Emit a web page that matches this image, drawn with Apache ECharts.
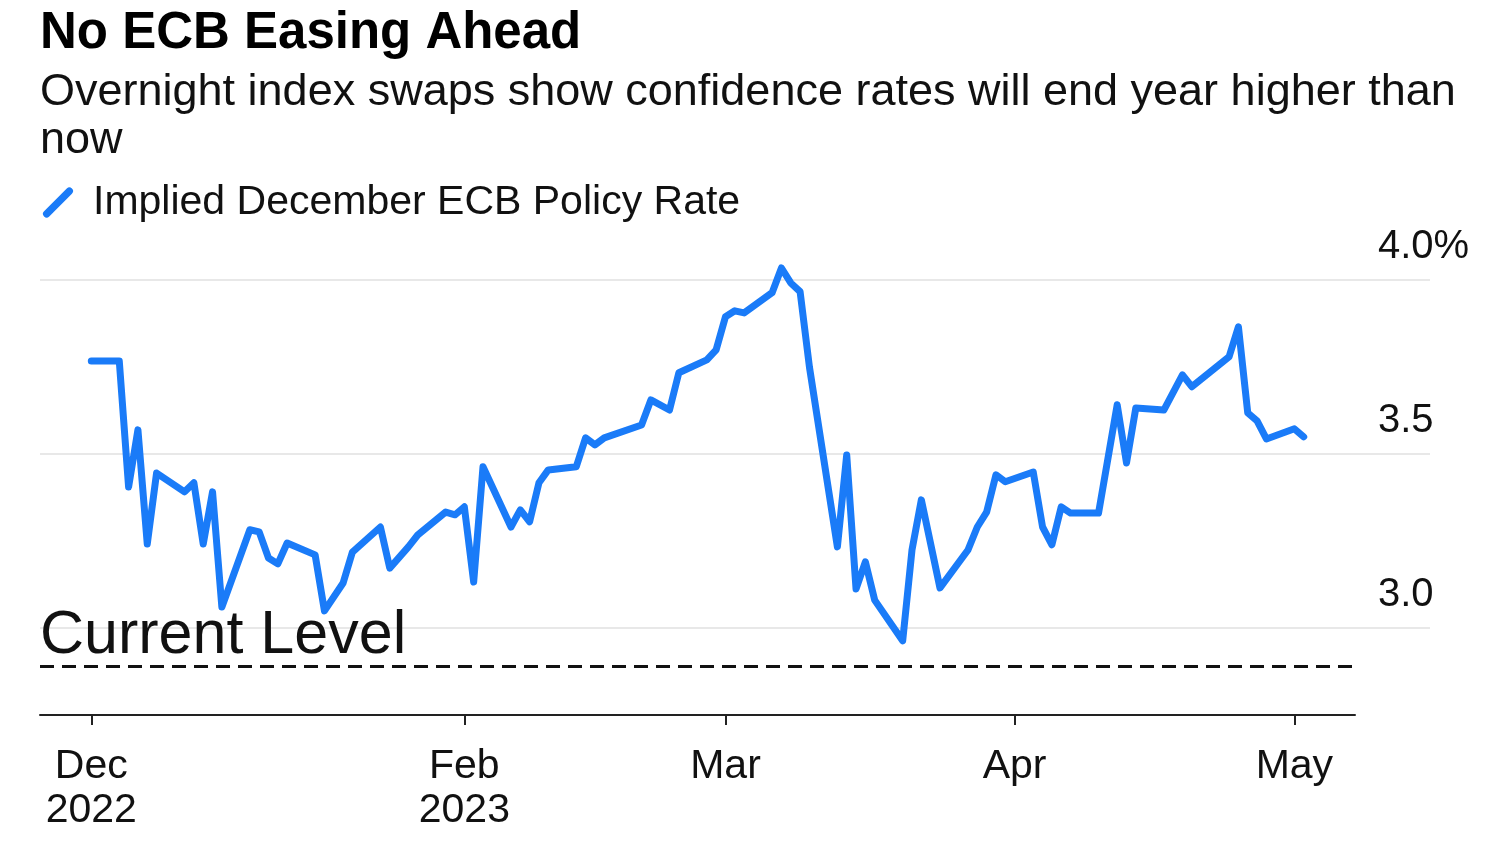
<!DOCTYPE html>
<html>
<head>
<meta charset="utf-8">
<script src="https://cdn.jsdelivr.net/npm/echarts@6/dist/echarts.min.js"></script>
<style>
html,body{margin:0;padding:0;background:#fff;}
#chart{width:1500px;height:850px;}
</style>
</head>
<body>
<div id="chart"></div>
<script>
// ---- data ----
const axisStartDate = '2022-12-18';
const axisDayCount = 141;
const tickDates = ['2022-12-23', '2023-02-01', '2023-03-01', '2023-04-01', '2023-05-01'];
const tickLabels = ['Dec\n2022', 'Feb\n2023', 'Mar', 'Apr', 'May'];
const yTickValues = [3.0, 3.5, 4.0];
const yTickLabels = ['3.0', '3.5', '4.0%'];
const seriesName = 'Implied December ECB Policy Rate';
const pointDates = [
  '2022-12-23','2022-12-26','2022-12-27','2022-12-28','2022-12-29','2022-12-30',
  '2023-01-02','2023-01-03','2023-01-04','2023-01-05','2023-01-06',
  '2023-01-09','2023-01-10','2023-01-11','2023-01-12','2023-01-13',
  '2023-01-16','2023-01-17','2023-01-19','2023-01-20',
  '2023-01-23','2023-01-24','2023-01-26','2023-01-27',
  '2023-01-30','2023-01-31','2023-02-01','2023-02-02','2023-02-03',
  '2023-02-06','2023-02-07','2023-02-08','2023-02-09','2023-02-10',
  '2023-02-13','2023-02-14','2023-02-15','2023-02-16',
  '2023-02-20','2023-02-21','2023-02-23','2023-02-24',
  '2023-02-27','2023-02-28','2023-03-01','2023-03-02','2023-03-03',
  '2023-03-06','2023-03-07','2023-03-08','2023-03-09','2023-03-10',
  '2023-03-13','2023-03-14','2023-03-15','2023-03-16','2023-03-17',
  '2023-03-20','2023-03-21','2023-03-22','2023-03-24',
  '2023-03-27','2023-03-28','2023-03-29','2023-03-30','2023-03-31',
  '2023-04-03','2023-04-04','2023-04-05','2023-04-06','2023-04-07',
  '2023-04-10','2023-04-12','2023-04-13','2023-04-14',
  '2023-04-17','2023-04-19','2023-04-20',
  '2023-04-24','2023-04-25','2023-04-26','2023-04-27','2023-04-28',
  '2023-05-01','2023-05-02'
];
const rateValues = [
  3.767, 3.767, 3.405, 3.569, 3.241, 3.445,
  3.391, 3.417, 3.241, 3.391, 3.060,
  3.282, 3.276, 3.201, 3.184, 3.244,
  3.210, 3.049, 3.129, 3.218,
  3.290, 3.172, 3.233, 3.267,
  3.333, 3.325, 3.348, 3.132, 3.463,
  3.290, 3.339, 3.305, 3.417, 3.454,
  3.463, 3.546, 3.526, 3.546,
  3.583, 3.655, 3.626, 3.733,
  3.770, 3.799, 3.894, 3.911, 3.905,
  3.963, 4.034, 3.991, 3.966, 3.750,
  3.233, 3.497, 3.112, 3.190, 3.080,
  2.963, 3.224, 3.368, 3.115,
  3.224, 3.290, 3.333, 3.440, 3.420,
  3.448, 3.290, 3.239, 3.348, 3.330,
  3.330, 3.641, 3.474, 3.632,
  3.626, 3.727, 3.693,
  3.779, 3.865, 3.618, 3.595, 3.543,
  3.572, 3.549
];
const currentLevel = 2.894;

// ---- build ----
function isoDay(d) { return d.toISOString().slice(0, 10); }
const categories = [];
{
  const start = new Date(axisStartDate + 'T00:00:00Z');
  for (let i = 0; i < axisDayCount; i++) {
    categories.push(isoDay(new Date(start.getTime() + i * 86400000)));
  }
}
const seriesData = pointDates.map((d, i) => [d, rateValues[i]]);
const isTick = (idx, val) => tickDates.indexOf(val) >= 0;

const FONT = '"Liberation Sans", Arial, Helvetica, sans-serif';
const BLUE = '#1a7bf8';
const INK = '#111111';

const chart = echarts.init(document.getElementById('chart'), null, { renderer: 'canvas' });
chart.setOption({
  animation: false,
  backgroundColor: '#ffffff',
  textStyle: { fontFamily: FONT },
  title: [
    {
      text: 'No ECB Easing Ahead',
      left: 35, top: 3,
      textStyle: { fontFamily: FONT, fontSize: 51, fontWeight: 'bold', color: '#000' }
    },
    {
      text: 'Overnight index swaps show confidence rates will end year higher than now',
      left: 35, top: 64,
      textStyle: { fontFamily: FONT, fontSize: 45, fontWeight: 'normal', color: INK,
                   width: 1445, overflow: 'break', lineHeight: 48 }
    }
  ],
  legend: {
    left: 38, top: 177,
    itemWidth: 36, itemHeight: 30,
    icon: 'path://M3,25 L25,3 A3,3 0 0 1 30,8 L8,30 A3,3 0 0 1 3,25 Z',
    textStyle: { fontFamily: FONT, fontSize: 41, color: INK, padding: [0, 0, 0, 12] },
    data: [seriesName]
  },
  grid: [
    { left: 40, right: 70, top: 245, bottom: 135 },
    { left: 40, right: 145, top: 245, bottom: 135 }
  ],
  xAxis: [
    { gridIndex: 0, type: 'value', min: 0, max: 1, show: false },
    {
      gridIndex: 1, type: 'category', data: categories, boundaryGap: true,
      axisLine: { show: true, lineStyle: { color: '#222', width: 2 } },
      axisTick: { show: true, alignWithLabel: true, interval: isTick, length: 10,
                  lineStyle: { color: '#222', width: 2 } },
      axisLabel: {
        interval: isTick,
        formatter: (val) => { const k = tickDates.indexOf(val); return k >= 0 ? tickLabels[k] : ''; },
        fontFamily: FONT, fontSize: 41, lineHeight: 44, color: INK, margin: 30,
        verticalAlign: 'top'
      },
      splitLine: { show: false }
    }
  ],
  yAxis: [
    {
      gridIndex: 0, type: 'value', min: 2.75, max: 4.1, position: 'right',
      axisLine: { show: false },
      axisTick: { show: false, customValues: yTickValues },
      axisLabel: {
        customValues: yTickValues,
        inside: true, margin: 52, align: 'left', verticalAlign: 'bottom', lineHeight: 66,
        fontFamily: FONT, fontSize: 40, color: INK,
        formatter: (v) => { const k = yTickValues.findIndex(t => Math.abs(t - v) < 1e-9); return k >= 0 ? yTickLabels[k] : ''; }
      },
      splitLine: { show: true, lineStyle: { color: '#e8e8e8', width: 2 } }
    },
    { gridIndex: 1, type: 'value', min: 2.75, max: 4.1, show: false, splitLine: { show: false } }
  ],
  series: [
    {
      name: seriesName,
      type: 'line',
      xAxisIndex: 1, yAxisIndex: 1,
      data: seriesData,
      symbol: 'none', showSymbol: false,
      color: BLUE,
      lineStyle: { color: BLUE, width: 7, join: 'round', cap: 'round' },
      markLine: {
        silent: true,
        symbol: ['none', 'none'],
        lineStyle: { color: INK, type: [14, 8], width: 3 },
        label: { show: true, position: 'insideStartTop', formatter: 'Current Level',
                 fontFamily: FONT, fontSize: 61, color: INK, distance: [0, 0] },
        emphasis: { disabled: true },
        data: [{ yAxis: currentLevel }]
      }
    }
  ]
});
</script>
</body>
</html>
